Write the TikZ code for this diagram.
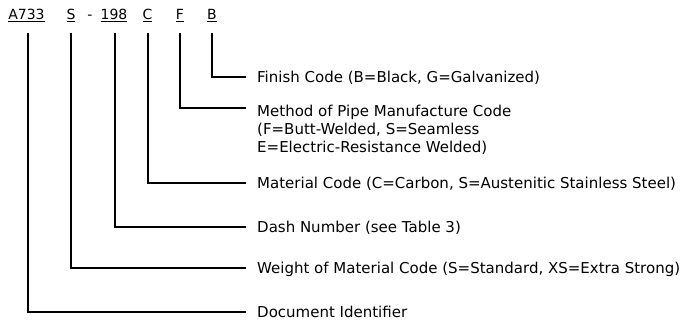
\documentclass[tikz,border=0pt]{standalone}
\usepackage{fontspec}
\setmainfont{DejaVu Sans}
\begin{document}
\begin{tikzpicture}[x=1pt,y=-1pt,
  code/.style={font=\fontsize{14}{16}\selectfont, inner sep=0pt, anchor=base},
  lbl/.style={font=\fontsize{15}{18}\selectfont, inner sep=0pt, anchor=base west, align=left},
  lead/.style={line width=1.8pt}]
\useasboundingbox (0,0) rectangle (683,323);
% code parts
\node[code] (a733) at (26.5,20) {\underline{A733}};
\node[code] (s) at (71,20) {\underline{S}};
\node[code] (dash) at (90,20) {-};
\node[code] (n198) at (114,20) {\underline{198}};
\node[code] (c) at (147.5,20) {\underline{C}};
\node[code] (f) at (180,20) {\underline{F}};
\node[code] (b) at (212,20) {\underline{B}};
% labels
\node[lbl] (lb) at (257,82.5) {Finish Code (B=Black, G=Galvanized)};
\node[lbl, anchor=north west] (lf) at (257,104.5) {Method of Pipe Manufacture Code\\(F=Butt-Welded, S=Seamless\\E=Electric-Resistance Welded)};
\node[lbl] (lc) at (257,188.5) {Material Code (C=Carbon, S=Austenitic Stainless Steel)};
\node[lbl] (ln) at (257,232.5) {Dash Number (see Table 3)};
\node[lbl] (ls) at (257,273.5) {Weight of Material Code (S=Standard, XS=Extra Strong)};
\node[lbl] (la) at (257,317.5) {Document Identifier};
% turning points
\coordinate (eb) at (246,77);
\coordinate (ef) at (246,108);
\coordinate (ec) at (246,183);
\coordinate (en) at (246,227);
\coordinate (es) at (246,268);
\coordinate (ea) at (246,312);
\draw[lead] (b.south |- 0,33) |- (eb);
\draw[lead] (f.south |- 0,33) |- (ef);
\draw[lead] (148,33) |- (ec);
\draw[lead] (115,33) |- (en);
\draw[lead] (71,33) |- (es);
\draw[lead] (28,33) |- (ea);
\end{tikzpicture}
\end{document}
